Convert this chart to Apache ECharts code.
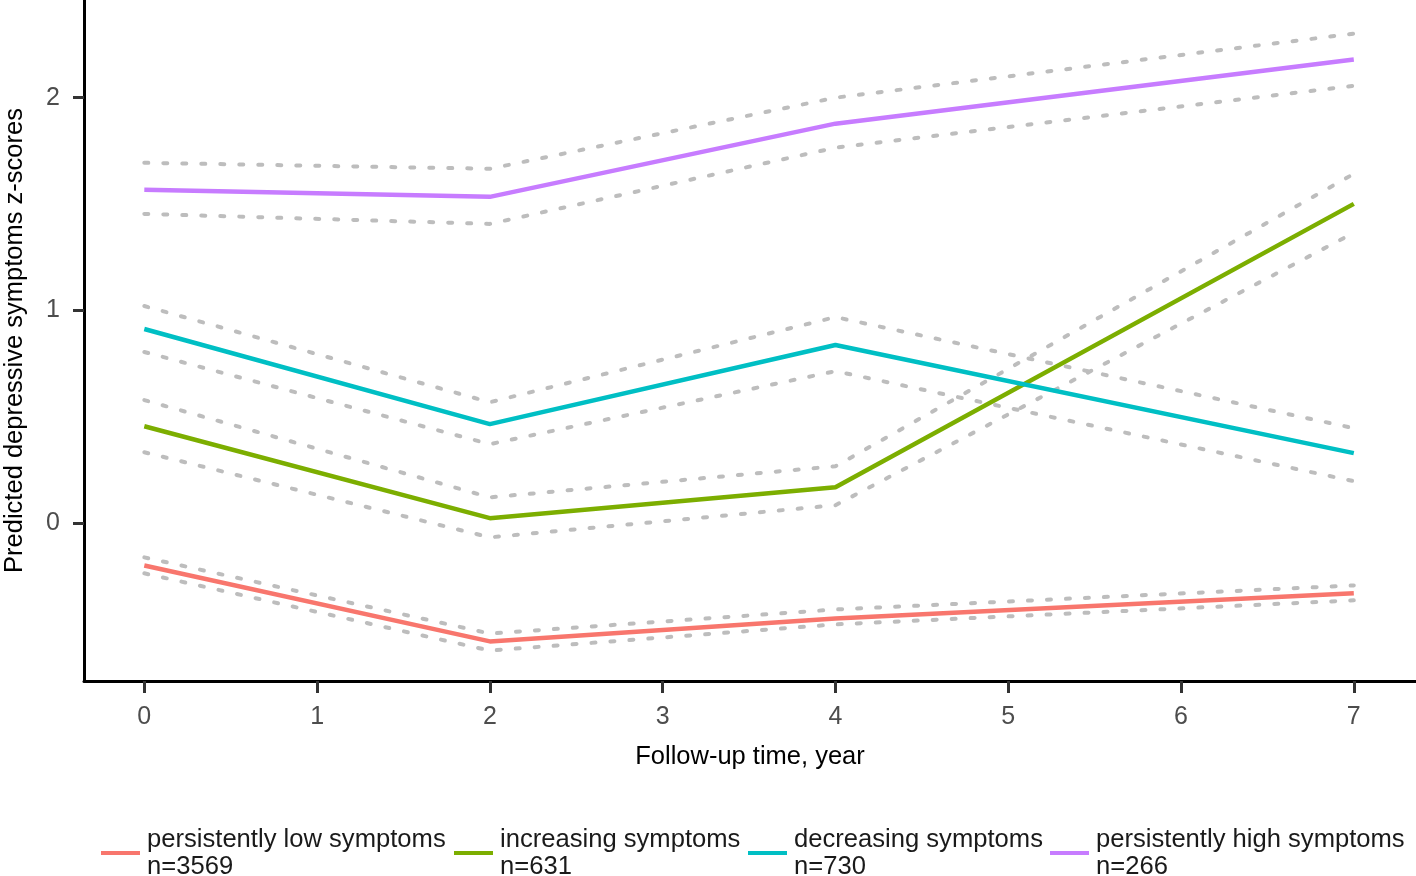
<!DOCTYPE html>
<html>
<head>
<meta charset="utf-8">
<script src="https://cdn.jsdelivr.net/npm/echarts@6/dist/echarts.min.js"></script>
<style>
html,body{margin:0;padding:0;background:#fff;}
#chart{width:1416px;height:876px;}
</style>
</head>
<body>
<div id="chart"></div>
<script>
// ---- data ----
var years = [0, 2, 4, 7];
var xTicks = [0, 1, 2, 3, 4, 5, 6, 7];
var yTicks = [0, 1, 2];

var groupNames = ['persistently low symptoms', 'increasing symptoms', 'decreasing symptoms', 'persistently high symptoms'];
var groupN = ['n=3569', 'n=631', 'n=730', 'n=266'];
var groupColors = ['#F8766D', '#7CAE00', '#00BFC4', '#C77CFF'];

var lowMean  = [-0.198, -0.555, -0.447, -0.329];
var lowUpper = [-0.160, -0.518, -0.405, -0.292];
var lowLower = [-0.235, -0.598, -0.475, -0.362];

var incMean  = [0.456, 0.024, 0.169, 1.501];
var incUpper = [0.579, 0.122, 0.268, 1.642];
var incLower = [0.334, -0.066, 0.085, 1.365];

var decMean  = [0.913, 0.466, 0.838, 0.330];
var decUpper = [1.021, 0.569, 0.969, 0.447];
var decLower = [0.805, 0.372, 0.715, 0.198];

var highMean  = [1.567, 1.534, 1.878, 2.179];
var highUpper = [1.694, 1.666, 2.000, 2.301];
var highLower = [1.454, 1.407, 1.765, 2.056];

var means = [lowMean, incMean, decMean, highMean];
var uppers = [lowUpper, incUpper, decUpper, highUpper];
var lowers = [lowLower, incLower, decLower, highLower];

// ---- build ----
function pairs(vals) {
  return years.map(function (x, i) { return [x, vals[i]]; });
}

var FONT = 'Liberation Sans, Arial, sans-serif';
var series = [];
for (var g = 0; g < 4; g++) {
  [uppers[g], lowers[g]].forEach(function (band) {
    series.push({
      type: 'line',
      name: 'ci',
      data: pairs(band),
      symbol: 'none',
      silent: true,
      z: 2,
      lineStyle: { color: '#bdbdbd', width: 4, type: [4, 15], cap: 'round' }
    });
  });
}
for (var g2 = 0; g2 < 4; g2++) {
  series.push({
    type: 'line',
    name: groupNames[g2],
    data: pairs(means[g2]),
    symbol: 'none',
    z: 3,
    color: groupColors[g2],
    lineStyle: { color: groupColors[g2], width: 4.5 }
  });
}

var legendLefts = [101, 454, 748, 1050];
var legends = groupNames.map(function (nm, i) {
  return {
    data: [nm],
    left: legendLefts[i],
    top: 826,
    padding: 0,
    icon: 'rect',
    itemWidth: 39,
    itemHeight: 4,
    selectedMode: false,
    formatter: function (name) { return name + '\n' + groupN[groupNames.indexOf(name)]; },
    textStyle: { fontFamily: FONT, fontSize: 25.6, lineHeight: 27, color: '#1a1a1a', padding: [0, 0, 0, 2] }
  };
});

var chart = echarts.init(document.getElementById('chart'), null, { renderer: 'canvas' });
chart.setOption({
  animation: false,
  backgroundColor: '#ffffff',
  grid: { left: 84, right: 0, top: 0, bottom: 195, containLabel: false, outerBoundsMode: 'none' },
  legend: legends,
  xAxis: {
    type: 'value',
    min: -0.349,
    max: 7.36,
    name: 'Follow-up time, year',
    nameLocation: 'middle',
    nameGap: 63,
    nameTextStyle: { fontFamily: FONT, fontSize: 25.5, color: '#000' },
    axisLine: { show: true, onZero: false, lineStyle: { color: '#000', width: 3 } },
    axisTick: { show: true, customValues: xTicks, length: 12, lineStyle: { color: '#333', width: 3 } },
    axisLabel: { customValues: xTicks, fontFamily: FONT, fontSize: 25, color: '#4d4d4d', margin: 24 },
    splitLine: { show: false }
  },
  yAxis: {
    type: 'value',
    min: -0.741,
    max: 2.459,
    name: 'Predicted depressive symptoms z-scores',
    nameLocation: 'middle',
    nameGap: 56,
    nameTextStyle: { fontFamily: FONT, fontSize: 25.5, color: '#000' },
    axisLine: { show: true, onZero: false, lineStyle: { color: '#000', width: 3 } },
    axisTick: { show: true, customValues: yTicks, length: 11, lineStyle: { color: '#333', width: 3 } },
    axisLabel: { customValues: yTicks, fontFamily: FONT, fontSize: 25, color: '#4d4d4d', margin: 24 },
    splitLine: { show: false }
  },
  series: series
});
</script>
</body>
</html>
